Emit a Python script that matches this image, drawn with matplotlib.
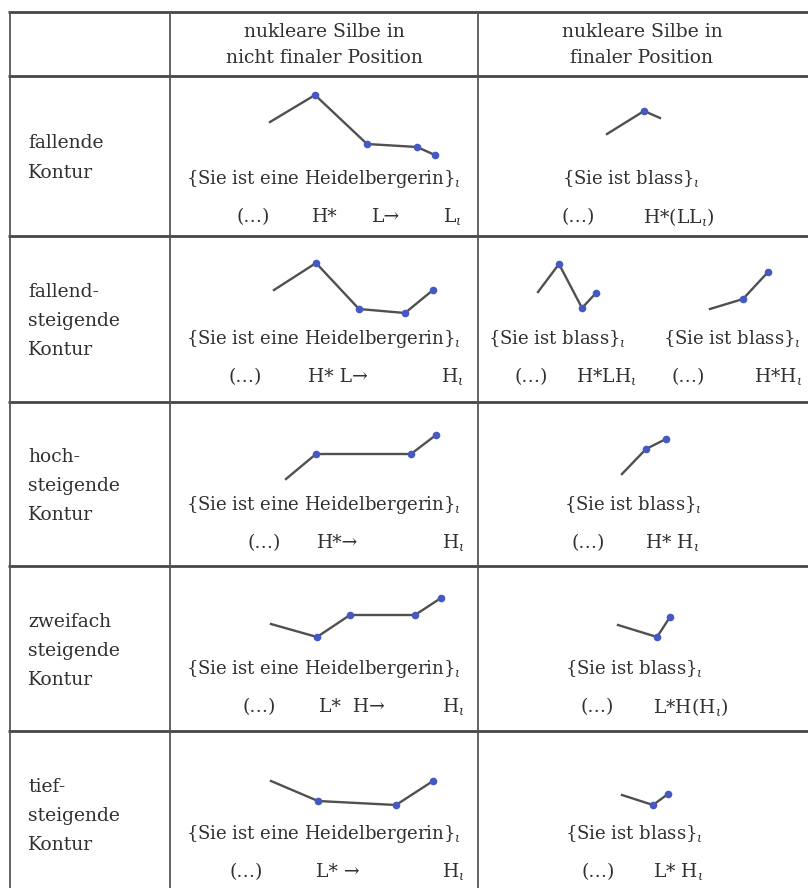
import matplotlib.pyplot as plt

plt.rcParams['font.family'] = ['DejaVu Serif']
plt.rcParams['mathtext.fontset'] = 'dejavuserif'

# table text
header_mid = ['nukleare Silbe in', 'nicht finaler Position']
header_right = ['nukleare Silbe in', 'finaler Position']
row_labels = [['fallende', 'Kontur'],
              ['fallend-', 'steigende', 'Kontur'],
              ['hoch-', 'steigende', 'Kontur'],
              ['zweifach', 'steigende', 'Kontur'],
              ['tief-', 'steigende', 'Kontur']]
sent_long = '{Sie ist eine Heidelbergerin}$_\\iota$'
sent_short = '{Sie ist blass}$_\\iota$'

# tone labels per row (middle column, right column)
tones_mid = [['(…)', 'H*', 'L→', 'L$_\\iota$'],
             ['(…)', 'H* L→', 'H$_\\iota$'],
             ['(…)', 'H*→', 'H$_\\iota$'],
             ['(…)', 'L*  H→', 'H$_\\iota$'],
             ['(…)', 'L* →', 'H$_\\iota$']]
tones_right = [['(…)', 'H*(LL$_\\iota$)'],
               ['(…)', 'H*LH$_\\iota$', '(…)', 'H*H$_\\iota$'],
               ['(…)', 'H* H$_\\iota$'],
               ['(…)', 'L*H(H$_\\iota$)'],
               ['(…)', 'L* H$_\\iota$']]

# pitch contours (offsets inside each cell, pixels)
contour_x_mid = [[100, 145, 197, 247, 265], [104, 146, 189, 235, 263], [116, 146, 241, 266],
                 [101, 147, 180, 245, 271], [101, 148, 226, 263]]
contour_y_mid = [[46, 19, 68, 71, 79], [54, 27, 73, 77, 54], [77, 52, 52, 33],
                 [58, 71, 49, 49, 32], [50, 70, 74, 50]]
contour_x_right = [[[129, 166, 182]], [[60, 81, 104, 118], [232, 265, 290]], [[144, 168, 188]],
                   [[140, 179, 192]], [[144, 175, 190]]]
contour_y_right = [[[58, 35, 42]], [[56, 28, 72, 57], [73, 63, 36]], [[72, 47, 37]],
                   [[59, 71, 51]], [[64, 74, 63]]]
# which points carry a dot
dots_right = [[[0, 1, 0]], [[0, 1, 1, 1], [0, 1, 1]], [[0, 1, 1]], [[0, 1, 1]], [[0, 1, 1]]]

# layout
col_x = [10, 170, 478]
row_y = [12, 76, 236, 402, 566, 731, 897]
tone_x_mid = [[253, 325, 386, 452], [245, 338, 452], [264, 338, 453], [259, 352, 453], [246, 338, 453]]
tone_x_right = [[578, 679], [531, 606, 688, 778], [588, 672], [597, 691], [598, 678]]
sent_x_mid = 186
sent_x_right = [[562], [488, 663], [564], [565], [565]]

ink = '#303030'
line_c = '#505050'
dot_c = '#4658c2'
fs = 13.5
fs_sent = 13.0
lh = 29

fig = plt.figure(figsize=(8.08, 8.88), dpi=100)
ax = fig.add_axes([0, 0, 1, 1])
ax.set_xlim(0, 808)
ax.set_ylim(888, 0)
ax.axis('off')

# grid
for y in row_y:
    ax.plot([8, 808], [y, y], color='#464646', lw=2.0, solid_capstyle='butt')
for x in col_x:
    ax.plot([x, x], [row_y[0], row_y[-1]], color='#555555', lw=1.3)

# header
for k, (a, b) in enumerate(zip(header_mid, header_right)):
    ax.text(324, 32 + 26 * k, a, ha='center', va='center', fontsize=fs, color=ink)
    ax.text(642, 32 + 26 * k, b, ha='center', va='center', fontsize=fs, color=ink)

for i in range(5):
    top = row_y[i + 1]
    mid_y = (row_y[i + 1] + row_y[i + 2]) / 2 + 2
    lines = row_labels[i]
    for k, s in enumerate(lines):
        ax.text(28, mid_y + (k - (len(lines) - 1) / 2) * lh, s, ha='left', va='center',
                fontsize=fs, color=ink)

    # middle column
    xs = [col_x[1] + v for v in contour_x_mid[i]]
    ys = [top + v for v in contour_y_mid[i]]
    ax.plot(xs, ys, color=line_c, lw=1.7, zorder=2)
    ax.plot(xs[1:], ys[1:], 'o', color=dot_c, ms=5.5, mec='none', zorder=3)
    ax.text(sent_x_mid, top + 103, sent_long, ha='left', va='center', fontsize=fs_sent, color=ink)
    for t, tx in zip(tones_mid[i], tone_x_mid[i]):
        ax.text(tx, top + 141, t, ha='center', va='center', fontsize=fs, color=ink)

    # right column
    for cx, cy, cd in zip(contour_x_right[i], contour_y_right[i], dots_right[i]):
        xs = [col_x[2] + v for v in cx]
        ys = [top + v for v in cy]
        ax.plot(xs, ys, color=line_c, lw=1.7, zorder=2)
        ax.plot([x for x, d in zip(xs, cd) if d], [y for y, d in zip(ys, cd) if d], 'o',
                color=dot_c, ms=5.5, mec='none', zorder=3)
    for sx in sent_x_right[i]:
        ax.text(sx, top + 103, sent_short, ha='left', va='center', fontsize=fs_sent, color=ink)
    for t, tx in zip(tones_right[i], tone_x_right[i]):
        ax.text(tx, top + 141, t, ha='center', va='center', fontsize=fs, color=ink)

fig.savefig('out.png', dpi=100, facecolor='white')
